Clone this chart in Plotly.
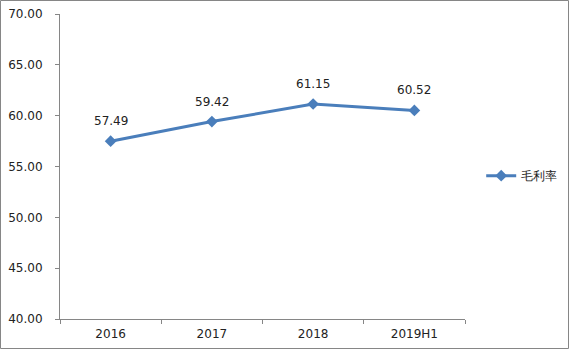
import plotly.graph_objects as go

categories = ["2016", "2017", "2018", "2019H1"]
values = [57.49, 59.42, 61.15, 60.52]
series_name = "毛利率"
y_ticks = [40, 45, 50, 55, 60, 65, 70]

W, H = 569, 349
ml, mr, mt, mb = 60, 104, 14, 30
pw, ph = W - ml - mr, H - mt - mb

fig = go.Figure()
fig.add_trace(go.Scatter(
    x=categories, y=values, name=series_name,
    mode="lines+markers",
    line=dict(color="#4a7ebb", width=3),
    marker=dict(symbol="diamond", size=9, color="#4a7ebb"),
))

annotations = [
    dict(x=i, y=v, xref="x", yref="y", text=f"{v:.2f}", showarrow=False,
         yanchor="middle", yshift=20,
         font=dict(family="DejaVu Sans", size=12, color="#222222"))
    for i, v in enumerate(values)
]

fig.update_layout(
    width=W, height=H,
    margin=dict(l=ml, r=mr, t=mt, b=mb, pad=0, autoexpand=False),
    paper_bgcolor="white", plot_bgcolor="white",
    font=dict(family="DejaVu Sans", size=12, color="#222222"),
    showlegend=True,
    annotations=annotations,
    legend=dict(x=1.04, y=0.47, xanchor="left", yanchor="middle",
                font=dict(size=12, color="#222222"),
                bgcolor="rgba(0,0,0,0)"),
    xaxis=dict(type="category", tickson="boundaries", ticks="outside",
               ticklen=4, tickcolor="#868686", showline=True,
               linecolor="#868686", linewidth=1, showgrid=False,
               tickfont=dict(size=12), range=[-0.5, 3.5],
               ticklabelstandoff=4),
    yaxis=dict(range=[40, 70], tickvals=y_ticks,
               ticktext=[f"{v:.2f}" for v in y_ticks],
               ticks="outside", ticklen=4, tickcolor="#868686",
               showline=True, linecolor="#868686", linewidth=1,
               showgrid=False, zeroline=False, tickfont=dict(size=12),
               ticklabelstandoff=10),
    shapes=[dict(type="rect", xref="paper", yref="paper",
                 x0=(-ml + 0.5) / pw, x1=(pw + mr - 0.5) / pw,
                 y0=(-mb + 0.5) / ph, y1=(ph + mt - 0.5) / ph,
                 line=dict(color="#868686", width=1))],
)

fig.write_html("out.html")
